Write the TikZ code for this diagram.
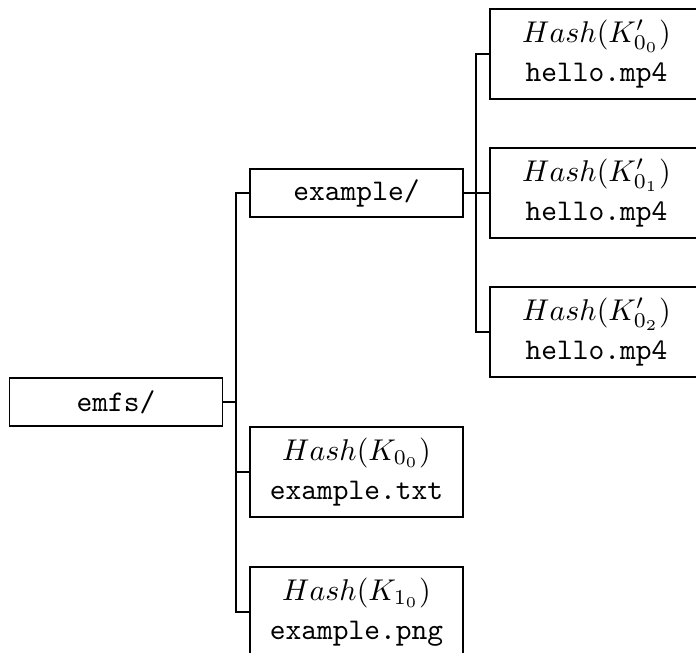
\documentclass[tikz,border=0pt]{standalone}
\tikzset{
  dirbox/.style={draw, line width=0.4pt, minimum width=71pt, minimum height=16pt, inner sep=2pt},
  filebox/.style={draw, line width=0.4pt, minimum width=71pt, minimum height=30pt, inner sep=2pt, align=center},
  fork/.style={line width=0.7pt}
}
\begin{document}
\begin{tikzpicture}[x=0.3333pt, y=-0.3333pt]
  \useasboundingbox (0,0) rectangle (696,652);

  \node[dirbox] (emfs) at (116,402) {\texttt{emfs/}};
  \node[dirbox] (example) at (356.5,193) {\texttt{example/}};
  \node[filebox] (txt) at (356.5,472) {$Hash(K_{0_0})$\\[1pt]\texttt{example.txt}};
  \node[filebox] (png) at (356.5,612) {$Hash(K_{1_0})$\\[1pt]\texttt{example.png}};
  \node[filebox] (mp0) at (596.5,54) {$Hash(K'_{0_0})$\\[1pt]\texttt{hello.mp4}};
  \node[filebox] (mp1) at (596.5,193) {$Hash(K'_{0_1})$\\[1pt]\texttt{hello.mp4}};
  \node[filebox] (mp2) at (596.5,332) {$Hash(K'_{0_2})$\\[1pt]\texttt{hello.mp4}};

  \coordinate (rootfork) at (236,402);
  \coordinate (dirfork) at (476,193);

  \draw[fork] (emfs) -- (rootfork);
  \draw[fork] (rootfork) |- (example.west);
  \draw[fork] (rootfork) |- (txt.west);
  \draw[fork] (rootfork) |- (png.west);

  \draw[fork] (example) -- (dirfork);
  \draw[fork] (dirfork) |- (mp0.west);
  \draw[fork] (dirfork) |- (mp1.west);
  \draw[fork] (dirfork) |- (mp2.west);
\end{tikzpicture}
\end{document}
